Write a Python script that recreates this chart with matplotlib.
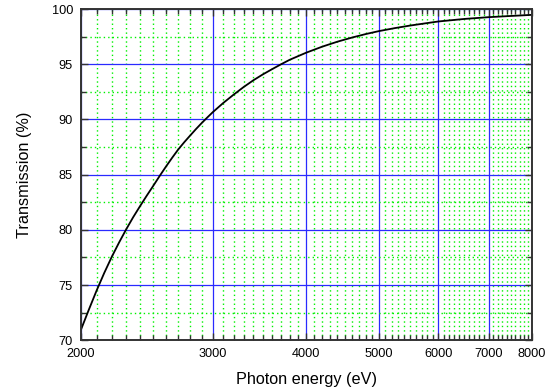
import matplotlib
matplotlib.use("Agg")
import matplotlib.pyplot as plt
from matplotlib.ticker import FixedLocator, FixedFormatter, NullFormatter

# Data
energy_ev = [2000, 2050, 2100, 2150, 2200, 2250, 2300, 2350, 2400, 2450,
             2500, 2550, 2600, 2650, 2700, 2750, 2800, 2850, 2900, 2950,
             3000, 3100, 3200, 3300, 3400, 3500, 3600, 3700, 3800, 3900,
             4000, 4200, 4400, 4600, 4800, 5000, 5250, 5500, 5750, 6000,
             6500, 7000, 7500, 8000]
transmission_pct = [70.9, 72.75, 74.5, 76.1, 77.55, 78.85, 80.05, 81.15, 82.15, 83.1,
                    84.0, 84.9, 85.75, 86.55, 87.3, 87.95, 88.55, 89.13, 89.67, 90.17,
                    90.65, 91.5, 92.25, 92.94, 93.55, 94.08, 94.55, 94.99, 95.4, 95.73,
                    96.05, 96.59, 97.04, 97.41, 97.73, 98.0, 98.27, 98.5, 98.69, 98.87,
                    99.1, 99.26, 99.37, 99.47]

x_major = [2000, 3000, 4000, 5000, 6000, 7000, 8000]
x_major_labels = ["2000", "3000", "4000", "5000", "6000", "7000", "8000"]
x_minor = [v for v in range(2100, 8000, 100) if v % 1000 != 0]
y_major = [70, 75, 80, 85, 90, 95, 100]
y_minor = [72.5, 77.5, 82.5, 87.5, 92.5, 97.5]

plt.rcParams['font.family'] = ['Liberation Sans', 'DejaVu Sans']

fig = plt.figure(figsize=(5.54, 3.92), dpi=100)
ax = fig.add_axes([80.7/554, 1 - 340.3/392, (532 - 80.7)/554, (340.3 - 9)/392])

ax.set_xscale('log')
ax.set_xlim(2000, 8000)
ax.set_ylim(70, 100)

ax.xaxis.set_major_locator(FixedLocator(x_major))
ax.xaxis.set_major_formatter(FixedFormatter(x_major_labels))
ax.xaxis.set_minor_locator(FixedLocator(x_minor))
ax.xaxis.set_minor_formatter(NullFormatter())
ax.yaxis.set_major_locator(FixedLocator(y_major))
ax.yaxis.set_minor_locator(FixedLocator(y_minor))

# grids
ax.grid(which='major', color='#2a2aff', linewidth=0.9, linestyle='-', zorder=1)
ax.grid(which='minor', color='#00f000', linewidth=1.0, linestyle=(0, (1, 2.2)), zorder=0)
ax.set_axisbelow(True)

ax.plot(energy_ev, transmission_pct, color='black', linewidth=1.3, zorder=3)

ax.tick_params(which='both', direction='in', top=True, right=True,
               labelsize=9.2, colors='#333333', labelcolor='black')
ax.tick_params(which='major', length=5, width=1.0, pad=5.5)
ax.tick_params(which='minor', length=3.5, width=1.0)
for s in ax.spines.values():
    s.set_linewidth(1.4)
    s.set_color('#333333')
    s.set_zorder(4)

ax.set_xlabel('Photon energy (eV)', fontsize=11.7, labelpad=9)
ax.set_ylabel('Transmission (%)', fontsize=11.7, labelpad=14)

fig.savefig('out.png', dpi=100)
